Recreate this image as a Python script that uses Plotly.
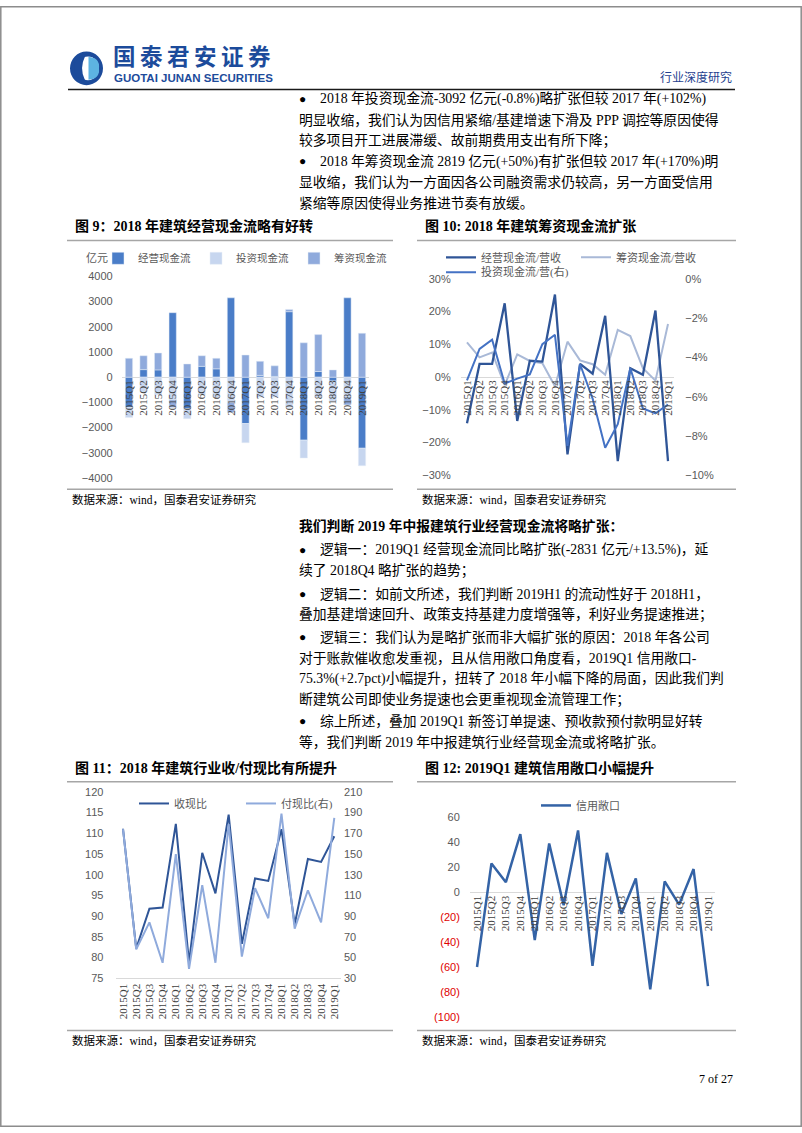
import plotly.graph_objects as go

W, H = 802, 1133


def X(px):
    return px / W


def Y(py):
    return 1 - py / H


# ---------------- data ----------------
quarters = ["2015Q1", "2015Q2", "2015Q3", "2015Q4", "2016Q1", "2016Q2", "2016Q3", "2016Q4",
            "2017Q1", "2017Q2", "2017Q3", "2017Q4", "2018Q1", "2018Q2", "2018Q3", "2018Q4", "2019Q1"]

# Fig 9 (亿元)
op_cf = [-1200, 300, 290, 2560, -1250, 430, 330, 3150, -1840, 70, 30, 2600, -2500, 225, -150, 3150, -2820]
inv_cf = [-400, -600, -700, -900, -400, -700, -800, -1000, -760, -800, -800, -1200, -710, -800, -800, -800, -695]
fin_cf = [750, 550, 670, -300, 525, 420, 420, -400, 880, 560, 420, 90, 1365, 1465, 290, -300, 1745]

# Fig 10 (%)
op_ratio = [-14.1, 4.0, 4.0, 22.5, -13.4, 5.0, 4.7, 25.2, -23.6, 4.0, 1.0, 18.7, -25.7, 2.7, 0.7, 20.3, -25.7]
fin_ratio = [10.6, 6.0, 7.5, -2.5, 6.9, 4.9, 4.2, -2.8, 10.8, 5.1, 3.9, 0.7, 14.4, 12.5, 2.7, -1.1, 16.2]
inv_ratio = [-5.17, -3.57, -3.1, -5.33, -5.08, -4.87, -3.33, -2.85, -8.5, -4.35, -6.1, -8.6, -7.4, -4.55,
             -6.6, -6.85, -6.4]

# Fig 11
recv_ratio = [111.1, 82.2, 91.8, 92.1, 112.3, 78.8, 105.3, 95.5, 114.5, 83.3, 99.1, 98.5, 111.0, 88.0,
              103.8, 103.1, 109.3]
pay_ratio = [174, 58, 84, 45, 150, 39, 120, 45, 179, 51, 117, 88, 189, 78, 115, 84, 185]

# Fig 12
credit_gap = [-60, 23, 8, 46.5, -38.5, 39, -10.5, 49.5, -59, 31.5, -17.5, 11, -78, 8.7, -10, 18.5, -75.3]
gap_ticks = [60, 40, 20, 0, -20, -40, -60, -80, -100]
gap_ticktext = ["60", "40", "20", "0", "(20)", "(40)", "(60)", "(80)", "(100)"]

SERIF = "Liberation Serif, Noto Sans CJK SC, serif"
CJK = "Noto Sans CJK SC, Liberation Serif, sans-serif"
SANS = "Liberation Sans, Noto Sans CJK SC, sans-serif"
TICK = dict(family=SANS, size=11, color="#595959")
CAT = dict(family=SERIF, size=11, color="#404040")
LEG = dict(family=SERIF, size=11, color="#595959")

fig = go.Figure()

# ---- Fig 9 bars ----
fig.add_trace(go.Bar(x=quarters, y=op_cf, name="经营现金流", marker_color="#4A7DC8",
                     xaxis="x", yaxis="y", legend="legend"))
fig.add_trace(go.Bar(x=quarters, y=inv_cf, name="投资现金流", marker_color="#C7D6EF",
                     xaxis="x", yaxis="y", legend="legend"))
fig.add_trace(go.Bar(x=quarters, y=fin_cf, name="筹资现金流", marker_color="#8FAADC",
                     xaxis="x", yaxis="y", legend="legend"))

# ---- Fig 10 lines ----
fig.add_trace(go.Scatter(x=quarters, y=fin_ratio, name="筹资现金流/营收", mode="lines",
                         line=dict(color="#A9B9D7", width=2), xaxis="x2", yaxis="y2", legend="legend2",
                         legendrank=2))
fig.add_trace(go.Scatter(x=quarters, y=inv_ratio, name="投资现金流/营(右)", mode="lines",
                         line=dict(color="#4472C4", width=2), xaxis="x2", yaxis="y3", legend="legend3"))
fig.add_trace(go.Scatter(x=quarters, y=op_ratio, name="经营现金流/营收", mode="lines",
                         line=dict(color="#2F5597", width=2.3), xaxis="x2", yaxis="y2", legend="legend2",
                         legendrank=1))

# ---- Fig 11 lines ----
fig.add_trace(go.Scatter(x=quarters, y=pay_ratio, name="付现比(右)", mode="lines",
                         line=dict(color="#8FAADC", width=2), xaxis="x3", yaxis="y5", legend="legend4",
                         legendrank=2))
fig.add_trace(go.Scatter(x=quarters, y=recv_ratio, name="收现比", mode="lines",
                         line=dict(color="#2F5597", width=2), xaxis="x3", yaxis="y4", legend="legend4",
                         legendrank=1))

# ---- Fig 12 line ----
fig.add_trace(go.Scatter(x=quarters, y=credit_gap, name="信用敞口", mode="lines",
                         line=dict(color="#3463A6", width=2.5), xaxis="x4", yaxis="y6", legend="legend5"))

cat_axis = dict(type="category", tickangle=-90, tickfont=CAT, showgrid=False, showline=False,
                zeroline=False, ticks="", range=[-0.5, 16.5], fixedrange=True,
                tickmode="linear", tick0=0, dtick=1)
num_axis = dict(showgrid=False, ticks="", showline=False, tickfont=TICK, fixedrange=True)

gap_text = [t if v >= 0 else "<span style='color:#E00000'>" + t + "</span>"
            for v, t in zip(gap_ticks, gap_ticktext)]

fig.update_layout(
    width=W, height=H, margin=dict(l=0, r=0, t=0, b=0),
    paper_bgcolor="white", plot_bgcolor="rgba(0,0,0,0)",
    barmode="relative", bargap=0.5,
    xaxis=dict(cat_axis, domain=[X(121.7), X(369.3)], anchor="free", position=Y(375)),
    yaxis=dict(num_axis, domain=[Y(477), Y(273.3)], range=[-4000, 4000], dtick=1000, anchor="x",
               zeroline=True, zerolinecolor="#D9D9D9", zerolinewidth=1, ticklabelstandoff=8),
    xaxis2=dict(cat_axis, domain=[X(460.7), X(674.3)], anchor="free", position=Y(375)),
    yaxis2=dict(num_axis, domain=[Y(474.3), Y(275.7)], range=[-30, 30], dtick=10, ticksuffix="%",
                anchor="x2", zeroline=True, zerolinecolor="#D9D9D9", zerolinewidth=1, ticklabelstandoff=9),
    yaxis3=dict(num_axis, overlaying="y2", side="right", anchor="x2", range=[-10, 0], dtick=2,
                ticksuffix="%", zeroline=False, ticklabelstandoff=10),
    xaxis3=dict(cat_axis, domain=[X(116.4), X(340.9)], anchor="y4", showline=True, linecolor="#D9D9D9"),
    yaxis4=dict(num_axis, domain=[Y(982.7), Y(794.3)], range=[75, 120], tick0=75, dtick=5, anchor="x3",
                zeroline=False, ticklabelstandoff=12),
    yaxis5=dict(num_axis, overlaying="y4", side="right", anchor="x3", range=[30, 210], tick0=30, dtick=20,
                zeroline=False, ticklabelstandoff=2),
    xaxis4=dict(cat_axis, domain=[X(469.8), X(715.2)], anchor="free", position=Y(896)),
    yaxis6=dict(num_axis, domain=[Y(1021.7), Y(820)], range=[-100, 60], tickvals=gap_ticks,
                ticktext=gap_text, anchor="x4", zeroline=True, zerolinecolor="#D9D9D9", zerolinewidth=1,
                ticklabelstandoff=9),
    legend=dict(x=X(98), y=Y(255), xanchor="left", yanchor="middle", orientation="h",
                font=dict(LEG, size=10.5), bgcolor="rgba(0,0,0,0)", itemwidth=30, entrywidth=53,
                itemclick=False),
    legend2=dict(x=X(441), y=Y(254), xanchor="left", yanchor="middle", orientation="h", font=LEG,
                 bgcolor="rgba(0,0,0,0)", itemwidth=30, entrywidth=90, itemclick=False),
    legend3=dict(x=X(441), y=Y(269), xanchor="left", yanchor="middle", orientation="h", font=LEG,
                 bgcolor="rgba(0,0,0,0)", itemwidth=30, itemclick=False),
    legend4=dict(x=X(134), y=Y(806), xanchor="left", yanchor="middle", orientation="h", font=LEG,
                 bgcolor="rgba(0,0,0,0)", itemwidth=30, entrywidth=62, itemclick=False),
    legend5=dict(x=X(536), y=Y(808), xanchor="left", yanchor="middle", orientation="h", font=LEG,
                 bgcolor="rgba(0,0,0,0)", itemwidth=30, itemclick=False),
    showlegend=True,
)

# ---------------- page decorations ----------------
shapes = []


def hline(y, x0, x1, color, width):
    shapes.append(dict(type="line", xref="paper", yref="paper", x0=X(x0), x1=X(x1), y0=Y(y), y1=Y(y),
                       line=dict(color=color, width=width)))


# page border
shapes.append(dict(type="rect", xref="paper", yref="paper", x0=X(0.8), x1=X(801.2), y0=Y(1132.2), y1=Y(0.8),
                   line=dict(color="#8C8C8C", width=1.5)))
# header rule
hline(84.5, 68, 735, "#1A1A1A", 1.5)
# chart frames
for (x0, x1) in [(67, 393), (417, 736)]:
    hline(237, x0, x1, "#A6A6A6", 1.5)
    hline(488.5, x0, x1, "#A6A6A6", 1.5)
    hline(784, x0, x1, "#A6A6A6", 1.5)
    hline(1035.5, x0, x1, "#A6A6A6", 1.5)

# logo emblem
shapes.append(dict(type="circle", xref="paper", yref="paper", x0=X(70), x1=X(103), y0=Y(80), y1=Y(46),
                   fillcolor="#1C4B9B", line=dict(width=0)))
shapes.append(dict(type="circle", xref="paper", yref="paper", x0=X(77), x1=X(99), y0=Y(75), y1=Y(51),
                   fillcolor="white", line=dict(width=0)))
shapes.append(dict(type="path", xref="paper", yref="paper",
                   path=f"M {X(88.5)},{Y(51.5)} Q {X(100)},{Y(52)} {X(99)},{Y(63)} Q {X(100)},{Y(74)} {X(88.5)},{Y(74.5)} Z",
                   fillcolor="#5DB3E2", line=dict(width=0)))
shapes.append(dict(type="path", xref="paper", yref="paper",
                   path=f"M {X(85)},{Y(51)} Q {X(74)},{Y(52)} {X(74)},{Y(63)} Q {X(74)},{Y(74)} {X(85)},{Y(75)} Q {X(79)},{Y(63)} {X(85)},{Y(51)} Z",
                   fillcolor="#1C4B9B", line=dict(width=0)))
fig.update_layout(shapes=shapes)

ann = []


def text(x, y, s, size=13.8, color="#000000", family=SERIF, anchor="left"):
    ann.append(dict(x=X(x), y=Y(y), xref="paper", yref="paper", text=s, showarrow=False, xanchor=anchor,
                    yanchor="middle", font=dict(family=family, size=size, color=color)))


# header
text(111, 49.5, "<b>" + "\u2009".join("国泰君安证券") + "</b>", 22.5, "#1C4B9B", CJK)
text(112, 73, "<b>GUOTAI JUNAN SECURITIES</b>", 11.5, "#1C4B9B", SANS)
text(734, 72, "行业深度研究", 12, "#1F3F8F", SERIF, "right")

# top paragraph
top_y = [94, 115, 136, 157, 178, 199]
top_lines = [
    (True, "2018 年投资现金流-3092 亿元(-0.8%)略扩张但较 2017 年(+102%)"),
    (False, "明显收缩，我们认为因信用紧缩/基建增速下滑及 PPP 调控等原因使得"),
    (False, "较多项目开工进展滞缓、故前期费用支出有所下降；"),
    (True, "2018 年筹资现金流 2819 亿元(+50%)有扩张但较 2017 年(+170%)明"),
    (False, "显收缩，我们认为一方面因各公司融资需求仍较高，另一方面受信用"),
    (False, "紧缩等原因使得业务推进节奏有放缓。"),
]
for yy, (bul, s) in zip(top_y, top_lines):
    if bul:
        text(297, yy, "●", 12)
        text(318, yy, s)
    else:
        text(297, yy, s)

# chart titles and sources
text(73, 222, "<b>图 9：2018 年建筑经营现金流略有好转</b>", 14)
text(423, 222, "<b>图 10: 2018 年建筑筹资现金流扩张</b>", 14)
text(73, 770, "<b>图 11：2018 年建筑行业收/付现比有所提升</b>", 14)
text(423, 770, "<b>图 12: 2019Q1 建筑信用敞口小幅提升</b>", 14)
for (x, y) in [(70, 499), (420, 499), (70, 1046), (420, 1046)]:
    text(x, y, "数据来源：wind，国泰君安证券研究", 11.5)
text(84, 255, "亿元", 11, "#595959")

# middle paragraph
mid_y = [526, 550, 571, 594, 615, 638, 659, 680, 701, 723, 744]
mid_lines = [
    (None, "<b>我们判断 2019 年中报建筑行业经营现金流将略扩张：</b>"),
    (True, "逻辑一：2019Q1 经营现金流同比略扩张(-2831 亿元/+13.5%)，延"),
    (False, "续了 2018Q4 略扩张的趋势；"),
    (True, "逻辑二：如前文所述，我们判断 2019H1 的流动性好于 2018H1，"),
    (False, "叠加基建增速回升、政策支持基建力度增强等，利好业务提速推进；"),
    (True, "逻辑三：我们认为是略扩张而非大幅扩张的原因：2018 年各公司"),
    (False, "对于账款催收愈发重视，且从信用敞口角度看，2019Q1 信用敞口-"),
    (False, "75.3%(+2.7pct)小幅提升，扭转了 2018 年小幅下降的局面，因此我们判"),
    (False, "断建筑公司即使业务提速也会更重视现金流管理工作；"),
    (True, "综上所述，叠加 2019Q1 新签订单提速、预收款预付款明显好转"),
    (False, "等，我们判断 2019 年中报建筑行业经营现金流或将略扩张。"),
]
for yy, (bul, s) in zip(mid_y, mid_lines):
    if bul:
        text(297, yy, "●", 12)
        text(318, yy, s)
    else:
        text(297, yy, s)

text(735, 1084, "7 of 27", 12, "#000000", SERIF, "right")

fig.update_layout(annotations=ann)

fig.write_html("out.html", config={"displayModeBar": False},
               post_script="document.body.style.margin='0';document.body.style.overflow='hidden';")
